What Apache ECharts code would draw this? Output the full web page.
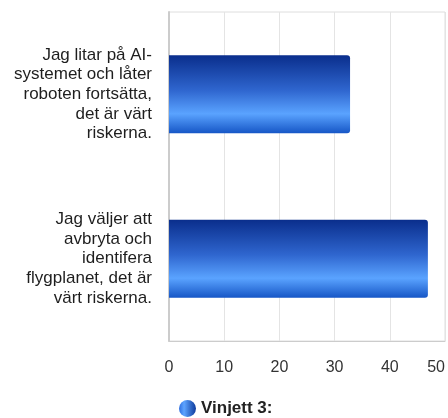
<!DOCTYPE html>
<html>
<head>
<meta charset="utf-8">
<script src="https://cdn.jsdelivr.net/npm/echarts@6/dist/echarts.min.js"></script>
<style>
  html, body { margin: 0; padding: 0; background: #fff; }
  #chart { width: 448px; height: 418px; }
</style>
</head>
<body>
<div id="chart"></div>
<script>
// svarsalternativ (y-axel), uppifrån och ned
var categories = [
  "Jag litar på AI-\nsystemet och låter\nroboten fortsätta,\ndet är värt\nriskerna.",
  "Jag väljer att\navbryta och\nidentifera\nflygplanet, det är\nvärt riskerna."
];
var seriesName = "Vinjett 3:";
var values = [32.8, 46.9];
var xTicks = [0, 10, 20, 30, 40, 50];

var chart = echarts.init(document.getElementById("chart"));

// blå gradient på staplarna
var barGradient = new echarts.graphic.LinearGradient(0, 0, 0, 1, [
  { offset: 0, color: "#0a2e8c" },
  { offset: 0.45, color: "#2f66cf" },
  { offset: 0.75, color: "#5aa3ff" },
  { offset: 1, color: "#1656c6" }
]);
var dotGradient = new echarts.graphic.LinearGradient(0, 0, 1, 0, [
  { offset: 0, color: "#2f6fe0" },
  { offset: 0.3, color: "#5ea4ff" },
  { offset: 1, color: "#0d3a9c" }
]);

var option = {
  animation: false,
  textStyle: { fontFamily: "Liberation Sans, Arial, sans-serif" },
  grid: {
    left: 169,
    right: 3,
    top: 12,
    bottom: 77,
    outerBoundsMode: "none",
    show: true,
    borderColor: "#dedede",
    borderWidth: 1
  },
  legend: {
    left: 174,
    top: 395,
    icon: "circle",
    itemWidth: 17,
    itemHeight: 17,
    itemGap: 10,
    textStyle: { fontSize: 17, fontWeight: "bold", color: "#222" },
    data: [{ name: seriesName, itemStyle: { color: dotGradient } }]
  },
  xAxis: {
    type: "value",
    min: xTicks[0],
    max: xTicks[xTicks.length - 1],
    interval: 10,
    axisLine: { show: true, lineStyle: { color: "#cccccc", width: 1 } },
    axisTick: { show: false },
    splitLine: { show: true, lineStyle: { color: "#e4e4e4" } },
    axisLabel: { fontSize: 16, color: "#333", margin: 19, alignMaxLabel: "right" }
  },
  yAxis: {
    type: "category",
    inverse: true,
    data: [
      { value: categories[0], textStyle: { padding: [6, 0, 0, 0] } },
      { value: categories[1] }
    ],
    axisLine: { show: true, lineStyle: { color: "#cccccc", width: 2 } },
    axisTick: { show: false },
    axisLabel: {
      fontSize: 17,
      lineHeight: 19.6,
      color: "#1e1e1e",
      margin: 17,
      align: "right"
    }
  },
  series: [
    {
      name: seriesName,
      type: "bar",
      data: values,
      barWidth: 78,
      itemStyle: {
        color: barGradient,
        borderRadius: [0, 3, 3, 0]
      }
    }
  ]
};
chart.setOption(option);
</script>
</body>
</html>
